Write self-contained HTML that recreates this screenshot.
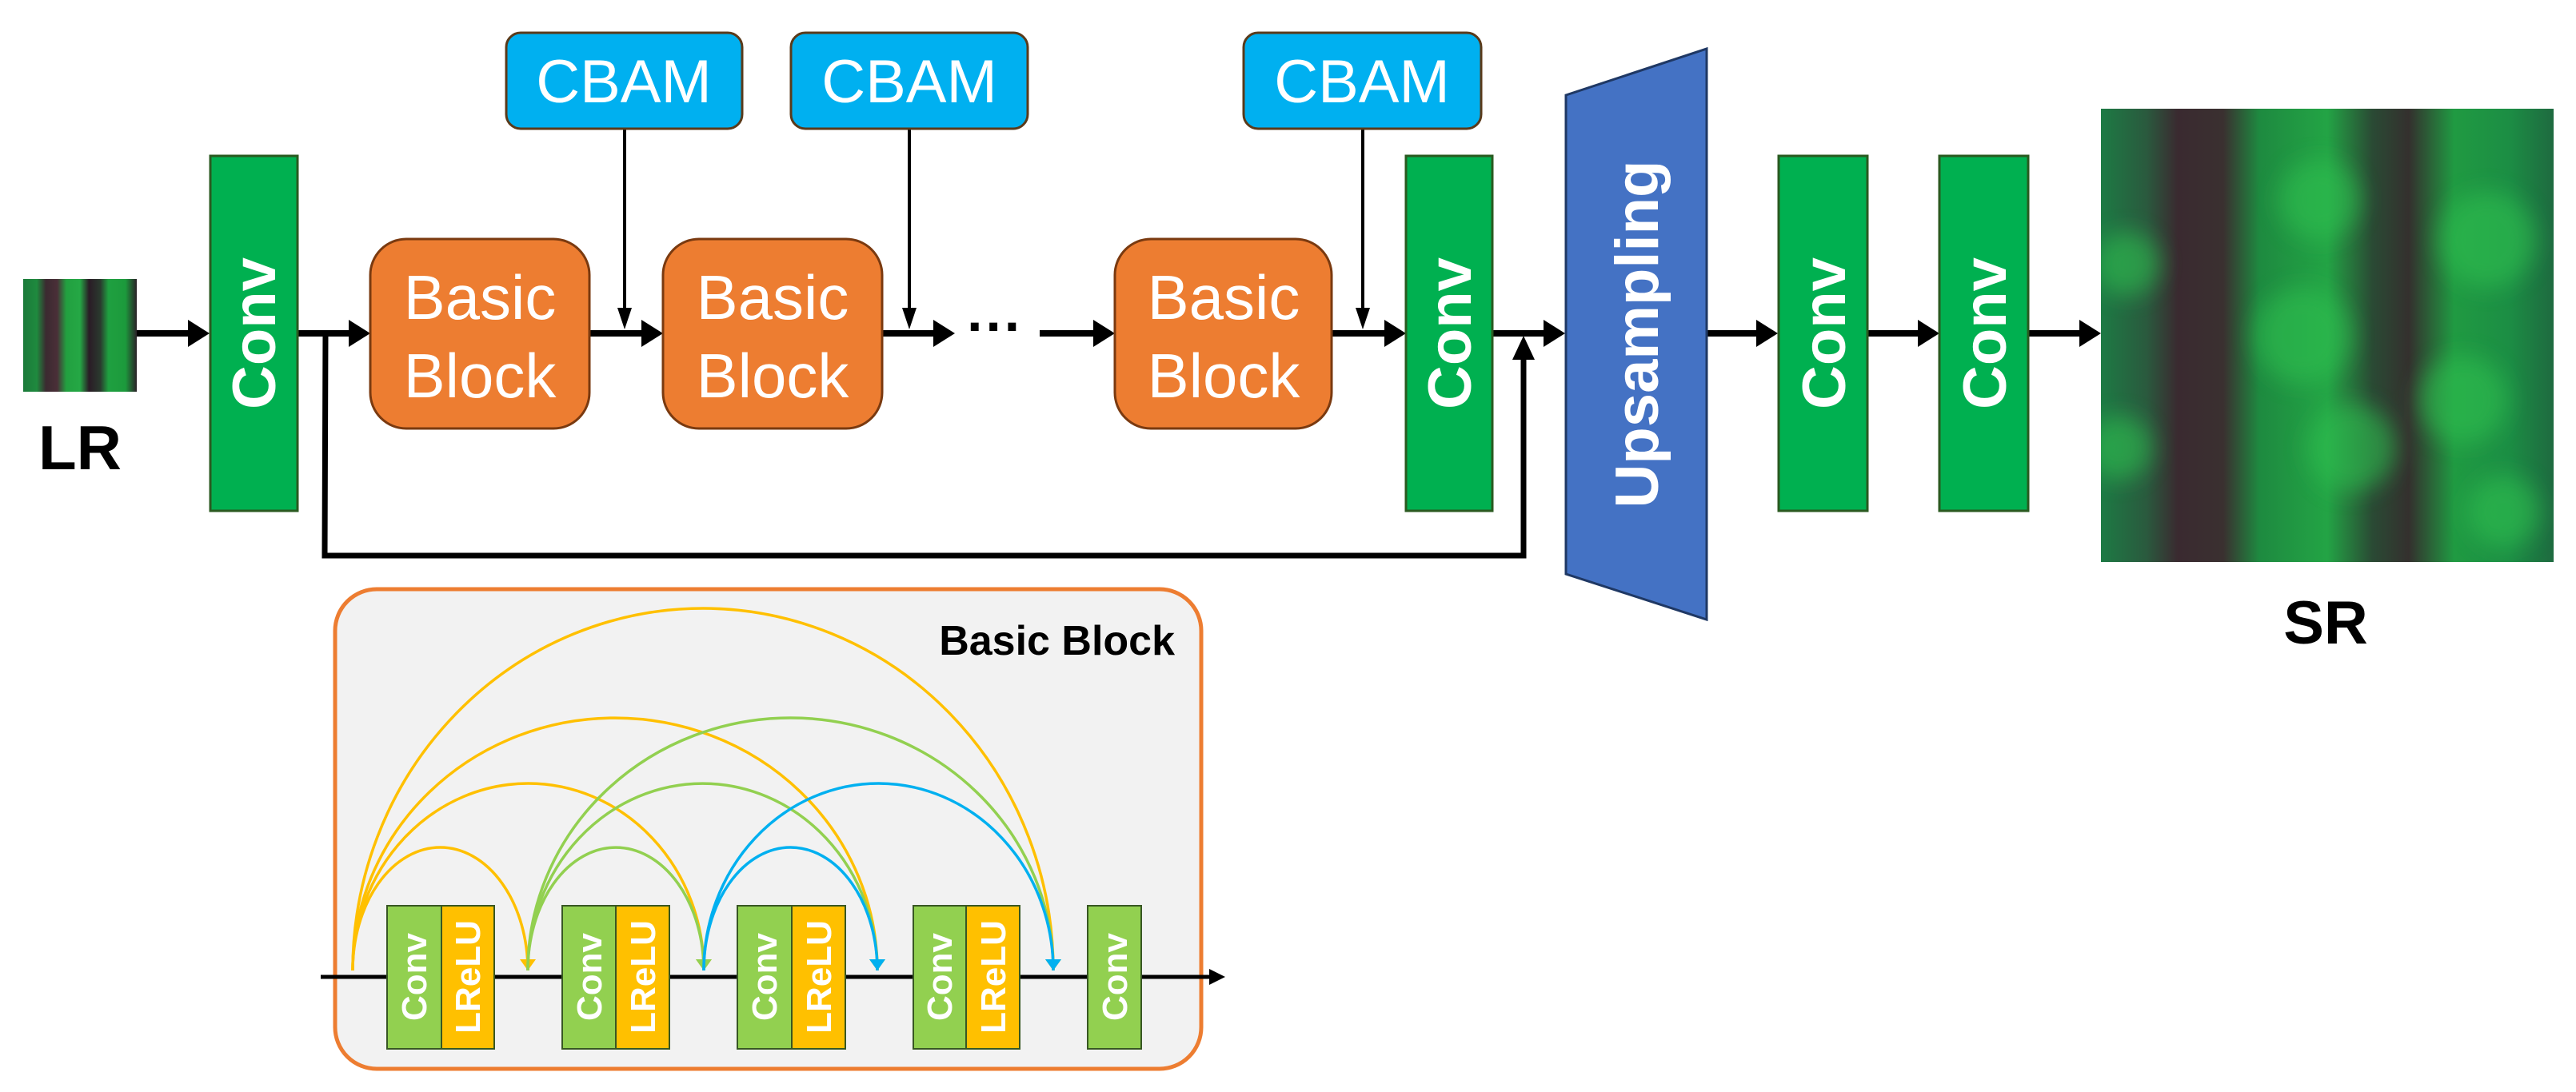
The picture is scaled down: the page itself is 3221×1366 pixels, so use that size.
<!DOCTYPE html>
<html><head><meta charset="utf-8"><style>
html,body{margin:0;padding:0;background:#fff;}
svg{display:block;}
text{font-family:"Liberation Sans",sans-serif;}
</style></head><body>
<svg width="3221" height="1366" viewBox="0 0 3221 1366" xmlns="http://www.w3.org/2000/svg">
<defs>
<marker id="ay" markerWidth="14" markerHeight="20" refX="14" refY="10" orient="auto" markerUnits="userSpaceOnUse" viewBox="0 0 14 20"><path d="M0,0 L14,10 L0,20 z" fill="#FFC000"/></marker>
<marker id="ag" markerWidth="14" markerHeight="20" refX="14" refY="10" orient="auto" markerUnits="userSpaceOnUse" viewBox="0 0 14 20"><path d="M0,0 L14,10 L0,20 z" fill="#92D050"/></marker>
<marker id="ab" markerWidth="14" markerHeight="20" refX="14" refY="10" orient="auto" markerUnits="userSpaceOnUse" viewBox="0 0 14 20"><path d="M0,0 L14,10 L0,20 z" fill="#00B0F0"/></marker>
<linearGradient id="lrg" x1="0" x2="1" y1="0" y2="0">
<stop offset="0" stop-color="#1a7a3a"/><stop offset="0.12" stop-color="#1f8a3e"/><stop offset="0.2" stop-color="#3b2a30"/><stop offset="0.3" stop-color="#4a2f38"/><stop offset="0.38" stop-color="#22a040"/><stop offset="0.5" stop-color="#25a845"/><stop offset="0.58" stop-color="#2a1c26"/><stop offset="0.68" stop-color="#2a3a2e"/><stop offset="0.75" stop-color="#1fa040"/><stop offset="0.9" stop-color="#1c9a3c"/><stop offset="1" stop-color="#2a2228"/>
</linearGradient>
<linearGradient id="srg" x1="0" x2="1" y1="0" y2="0">
<stop offset="0" stop-color="#1d7a44"/><stop offset="0.1" stop-color="#2a5a3e"/><stop offset="0.17" stop-color="#3a2a30"/><stop offset="0.27" stop-color="#3a3030"/><stop offset="0.35" stop-color="#1e8a40"/><stop offset="0.5" stop-color="#23a445"/><stop offset="0.6" stop-color="#2a4a34"/><stop offset="0.68" stop-color="#34302e"/><stop offset="0.78" stop-color="#209a42"/><stop offset="0.9" stop-color="#1c8e44"/><stop offset="1" stop-color="#1e6a40"/>
</linearGradient>
<filter id="bl"><feGaussianBlur stdDeviation="14"/></filter>
</defs>

<!-- LR image -->
<rect x="29" y="349" width="142" height="141" fill="url(#lrg)"/>
<text x="100" y="587" font-size="78" font-weight="bold" text-anchor="middle" fill="#000">LR</text>

<!-- main line segments -->
<g stroke="#000" stroke-width="8" fill="none">
<line x1="171" y1="417" x2="240" y2="417"/>
<line x1="372" y1="417" x2="441" y2="417"/>
<line x1="737" y1="417" x2="807" y2="417"/>
<line x1="1103" y1="417" x2="1172" y2="417"/>
<line x1="1300" y1="417" x2="1372" y2="417"/>
<line x1="1665" y1="417" x2="1736" y2="417"/>
<line x1="1866" y1="417" x2="1935" y2="417"/>
<line x1="2134" y1="417" x2="2201" y2="417"/>
<line x1="2335" y1="417" x2="2403" y2="417"/>
<line x1="2536" y1="417" x2="2605" y2="417"/>
</g>
<g fill="#000">
<path d="M262,417 L235,400 L235,434 z"/>
<path d="M463,417 L436,400 L436,434 z"/>
<path d="M829,417 L802,400 L802,434 z"/>
<path d="M1194,417 L1167,400 L1167,434 z"/>
<path d="M1394,417 L1367,400 L1367,434 z"/>
<path d="M1758,417 L1731,400 L1731,434 z"/>
<path d="M1957,417 L1930,400 L1930,434 z"/>
<path d="M2223,417 L2196,400 L2196,434 z"/>
<path d="M2425,417 L2398,400 L2398,434 z"/>
<path d="M2627,417 L2600,400 L2600,434 z"/>
</g>
<!-- skip connection -->
<polyline points="407,417 406,695 1905,695 1905,445" stroke="#000" stroke-width="7" fill="none"/>
<path d="M1905,420 L1891,450 L1919,450 z" fill="#000"/>
<!-- dots -->
<text x="1244" y="432" font-size="70" text-anchor="middle" fill="#000" font-weight="bold">···</text>

<!-- CBAM lines -->
<g stroke="#000" stroke-width="4">
<line x1="781" y1="161" x2="781" y2="395"/>
<line x1="1137" y1="161" x2="1137" y2="395"/>
<line x1="1704" y1="161" x2="1704" y2="395"/>
</g>
<g fill="#000">
<path d="M781,412 L772,385 L790,385 z"/>
<path d="M1137,412 L1128,385 L1146,385 z"/>
<path d="M1704,412 L1695,385 L1713,385 z"/>
</g>

<!-- CBAM boxes -->
<g fill="#00B0F0" stroke="#5a3a1a" stroke-width="3">
<rect x="633" y="41" width="295" height="120" rx="18"/>
<rect x="989" y="41" width="296" height="120" rx="18"/>
<rect x="1555" y="41" width="297" height="120" rx="18"/>
</g>
<g fill="#fff" font-size="76" text-anchor="middle">
<text x="780" y="128">CBAM</text>
<text x="1137" y="128">CBAM</text>
<text x="1703" y="128">CBAM</text>
</g>

<!-- Basic blocks -->
<g fill="#ED7D31" stroke="#7a3a10" stroke-width="3">
<rect x="463" y="299" width="274" height="237" rx="45"/>
<rect x="829" y="299" width="274" height="237" rx="45"/>
<rect x="1394" y="299" width="271" height="237" rx="45"/>
</g>
<g fill="#fff" font-size="78" text-anchor="middle">
<text x="600" y="399">Basic</text><text x="600" y="497">Block</text>
<text x="966" y="399">Basic</text><text x="966" y="497">Block</text>
<text x="1530" y="399">Basic</text><text x="1530" y="497">Block</text>
</g>

<!-- Conv boxes -->
<g fill="#00B050" stroke="#2a5a20" stroke-width="3">
<rect x="263" y="195" width="109" height="444"/>
<rect x="1758" y="195" width="108" height="444"/>
<rect x="2224" y="195" width="111" height="444"/>
<rect x="2425" y="195" width="111" height="444"/>
</g>
<g fill="#fff" font-size="76" font-weight="bold" text-anchor="middle">
<text transform="translate(344,417) rotate(-90)">Conv</text>
<text transform="translate(1839,417) rotate(-90)">Conv</text>
<text transform="translate(2307,417) rotate(-90)">Conv</text>
<text transform="translate(2508,417) rotate(-90)">Conv</text>
</g>

<!-- Upsampling -->
<polygon points="1958,119 2134,61 2134,775 1958,718" fill="#4472C4" stroke="#1f3864" stroke-width="3"/>
<text transform="translate(2073,418) rotate(-90)" fill="#fff" font-size="76" font-weight="bold" text-anchor="middle">Upsampling</text>

<!-- SR image -->
<g>
<rect x="2627" y="136" width="566" height="567" fill="url(#srg)"/>
<clipPath id="src"><rect x="2627" y="136" width="566" height="567"/></clipPath>
<g clip-path="url(#src)" filter="url(#bl)" fill="#2fc050" opacity="0.6">
<circle cx="2900" cy="250" r="50"/><circle cx="2880" cy="420" r="60"/><circle cx="2940" cy="560" r="55"/>
<circle cx="3110" cy="300" r="60"/><circle cx="3080" cy="500" r="55"/><circle cx="3130" cy="640" r="45"/>
<circle cx="2660" cy="330" r="40"/><circle cx="2650" cy="560" r="40"/>
</g>
</g>
<text x="2908" y="805" font-size="76" font-weight="bold" text-anchor="middle" fill="#000">SR</text>

<!-- Basic Block detail panel -->
<rect x="419" y="737" width="1083" height="600" rx="52" fill="#F2F2F2" stroke="#ED7D31" stroke-width="5"/>
<text x="1469" y="819" font-size="52" font-weight="bold" text-anchor="end" fill="#000">Basic Block</text>

<line x1="401" y1="1222" x2="1515" y2="1222" stroke="#000" stroke-width="5"/>
<path d="M1532,1222 L1512,1212 L1512,1232 z" fill="#000"/>

<!-- arcs -->
<g fill="none" stroke-width="3.5">
<path d="M441,1214 A109.5,154 0 0 1 660,1214" stroke="#FFC000" marker-end="url(#ay)"/>
<path d="M441,1214 A219.5,234 0 0 1 880,1214" stroke="#FFC000" marker-end="url(#ay)"/>
<path d="M441,1214 A328,316 0 0 1 1097,1214" stroke="#FFC000" marker-end="url(#ay)"/>
<path d="M441,1214 A438,453 0 0 1 1317,1214" stroke="#FFC000" marker-end="url(#ay)"/>
<path d="M660,1214 A110,154 0 0 1 880,1214" stroke="#92D050" marker-end="url(#ag)"/>
<path d="M660,1214 A218.5,234 0 0 1 1097,1214" stroke="#92D050" marker-end="url(#ag)"/>
<path d="M660,1214 A328.5,316 0 0 1 1317,1214" stroke="#92D050" marker-end="url(#ag)"/>
<path d="M880,1214 A108.5,154 0 0 1 1097,1214" stroke="#00B0F0" marker-end="url(#ab)"/>
<path d="M880,1214 A218.5,234 0 0 1 1317,1214" stroke="#00B0F0" marker-end="url(#ab)"/>
</g>

<!-- small blocks -->
<g stroke="#385723" stroke-width="2">
<rect x="484" y="1133" width="68" height="179" fill="#92D050"/><rect x="552" y="1133" width="66" height="179" fill="#FFC000"/>
<rect x="703" y="1133" width="67" height="179" fill="#92D050"/><rect x="770" y="1133" width="67" height="179" fill="#FFC000"/>
<rect x="922" y="1133" width="68" height="179" fill="#92D050"/><rect x="990" y="1133" width="67" height="179" fill="#FFC000"/>
<rect x="1142" y="1133" width="66" height="179" fill="#92D050"/><rect x="1208" y="1133" width="67" height="179" fill="#FFC000"/>
<rect x="1360" y="1133" width="67" height="179" fill="#92D050"/>
</g>
<g fill="#fff" font-size="44" font-weight="bold" text-anchor="middle">
<text transform="translate(533,1222) rotate(-90)">Conv</text>
<text transform="translate(600,1222) rotate(-90)">LReLU</text>
<text transform="translate(752,1222) rotate(-90)">Conv</text>
<text transform="translate(819,1222) rotate(-90)">LReLU</text>
<text transform="translate(971,1222) rotate(-90)">Conv</text>
<text transform="translate(1039,1222) rotate(-90)">LReLU</text>
<text transform="translate(1190,1222) rotate(-90)">Conv</text>
<text transform="translate(1257,1222) rotate(-90)">LReLU</text>
<text transform="translate(1409,1222) rotate(-90)">Conv</text>
</g>
</svg>
</body></html>
